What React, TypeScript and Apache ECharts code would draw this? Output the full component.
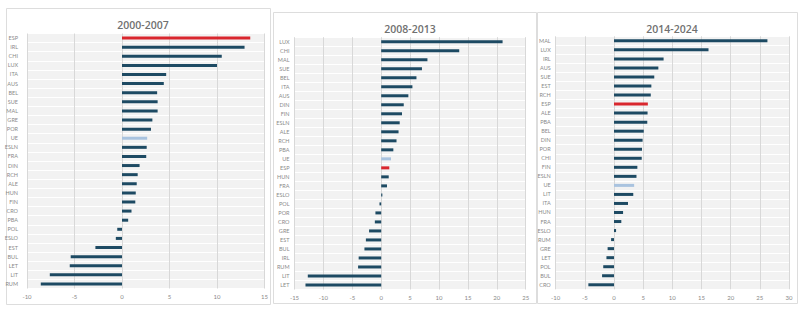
import React, { useEffect, useRef } from "react";
import * as echarts from "echarts";

const titles = ["2000-2007", "2008-2013", "2014-2024"];

const cats1 = ["ESP", "IRL", "CHI", "LUX", "ITA", "AUS", "BEL", "SUE", "MAL", "GRE", "POR", "UE", "ESLN", "FRA", "DIN", "RCH", "ALE", "HUN", "FIN", "CRO", "PBA", "POL", "ESLO", "EST", "BUL", "LET", "LIT", "RUM"];
const vals1 = [13.5, 12.9, 10.5, 10.0, 4.65, 4.4, 3.7, 3.75, 3.75, 3.2, 3.05, 2.65, 2.6, 2.55, 1.85, 1.65, 1.55, 1.45, 1.4, 1.0, 0.65, -0.5, -0.65, -2.8, -5.4, -5.5, -7.6, -8.55];

const cats2 = ["LUX", "CHI", "MAL", "SUE", "BEL", "ITA", "AUS", "DIN", "FIN", "ESLN", "ALE", "RCH", "PBA", "UE", "ESP", "HUN", "FRA", "ESLO", "POL", "POR", "CRO", "GRE", "EST", "BUL", "IRL", "RUM", "LIT", "LET"];
const vals2 = [21.0, 13.5, 8.0, 7.05, 6.1, 5.4, 4.7, 3.9, 3.6, 3.2, 3.0, 2.65, 2.1, 1.7, 1.4, 1.3, 1.0, 0.2, -0.3, -1.0, -1.1, -2.1, -2.65, -2.9, -3.9, -4.0, -12.7, -13.1];

const cats3 = ["MAL", "LUX", "IRL", "AUS", "SUE", "EST", "RCH", "ESP", "ALE", "PBA", "BEL", "DIN", "POR", "CHI", "FIN", "ESLN", "UE", "LIT", "ITA", "HUN", "FRA", "ESLO", "RUM", "GRE", "LET", "POL", "BUL", "CRO"];
const vals3 = [26.3, 16.2, 8.5, 7.6, 6.9, 6.4, 6.3, 5.8, 5.75, 5.7, 5.1, 4.9, 4.8, 4.75, 4.0, 3.85, 3.45, 3.3, 2.4, 1.55, 1.25, 0.35, -0.5, -1.1, -1.3, -1.85, -2.05, -4.4];

const ticks1 = [-10, -5, 0, 5, 10, 15];
const ticks2 = [-15, -10, -5, 0, 5, 10, 15, 20, 25];
const ticks3 = [-10, -5, 0, 5, 10, 15, 20, 25, 30];
const xInterval = 5;

const COLOR_BAR = "#1d4a63";
const COLOR_ESP = "#d9272e";
const COLOR_UE = "#a9c3df";

export default function App() {
  const ref = useRef<HTMLDivElement>(null);
  useEffect(() => {
    if (!ref.current) return;
    const chart = echarts.init(ref.current, null, { renderer: "svg" });
    const cats = [cats1, cats2, cats3];
    const vals = [vals1, vals2, vals3];
    const ticks = [ticks1, ticks2, ticks3];
    const grids = [
      { left: 27, width: 237.5, top: 33.5, height: 255 },
      { left: 294.5, width: 231.2, top: 37.2, height: 252.3 },
      { left: 555.7, width: 233.3, top: 36.3, height: 253 },
    ];
    const yLabelMargins = [9, 5, 5];
    const titleTops = [14, 18, 18];
    const titleCenters = [138, 405, 667];
    const cards = [
      { x: 6.5, y: 8.5, width: 264, height: 296 },
      { x: 273.5, y: 12.5, width: 263, height: 291 },
      { x: 537.5, y: 12.5, width: 260, height: 291 },
    ];
    const labelColor = "#8a8a8a";
    const option: any = {
      animation: false,
      backgroundColor: "#ffffff",
      title: titles.map((t, i) => ({
        text: t,
        left: titleCenters[i],
        top: titleTops[i],
        textAlign: "center",
        textStyle: { fontSize: 10.5, fontWeight: 600, color: "#707070", fontFamily: "Open Sans" },
      })),
      graphic: cards.map((c) => ({
        type: "rect",
        shape: c,
        z: -10,
        silent: true,
        style: { fill: "none", stroke: "#dddddd", lineWidth: 1 },
      })),
      grid: grids.map((g) => ({
        ...g,
        show: true,
        backgroundColor: "#f2f2f2",
        borderWidth: 0,
      })),
      xAxis: grids.map((_, i) => ({
        type: "value",
        gridIndex: i,
        min: ticks[i][0],
        max: ticks[i][ticks[i].length - 1],
        interval: xInterval,
        axisLine: { show: false, onZero: false },
        axisTick: { show: false },
        axisLabel: {
          fontSize: 6,
          color: labelColor,
          margin: 5,
          fontFamily: "Lato",
          showMinLabel: true,
          showMaxLabel: true,
          formatter: (v: number) => " " + String(v) + " ",
        },
        splitLine: { show: true, lineStyle: { color: "#d8d8d8", width: 1 } },
      })),
      yAxis: grids.map((_, i) => ({
        type: "category",
        gridIndex: i,
        data: cats[i],
        inverse: true,
        axisLine: { show: false, onZero: false },
        axisTick: { show: false },
        axisLabel: { fontSize: 5.5, color: labelColor, margin: yLabelMargins[i], fontFamily: "Lato", interval: 0 },
        splitLine: { show: true, lineStyle: { color: "#ffffff", width: 1 } },
      })),
      series: grids.map((_, i) => ({
        type: "bar",
        xAxisIndex: i,
        yAxisIndex: i,
        barWidth: 3,
        data: vals[i].map((v, j) => ({
          value: v,
          itemStyle: {
            color: cats[i][j] === "ESP" ? COLOR_ESP : cats[i][j] === "UE" ? COLOR_UE : COLOR_BAR,
          },
        })),
      })),
    };
    chart.setOption(option);
    return () => chart.dispose();
  }, []);
  return (
    <div
      ref={ref}
      style={{ position: "fixed", left: 0, top: 0, width: 810, height: 315 }}
    />
  );
}
